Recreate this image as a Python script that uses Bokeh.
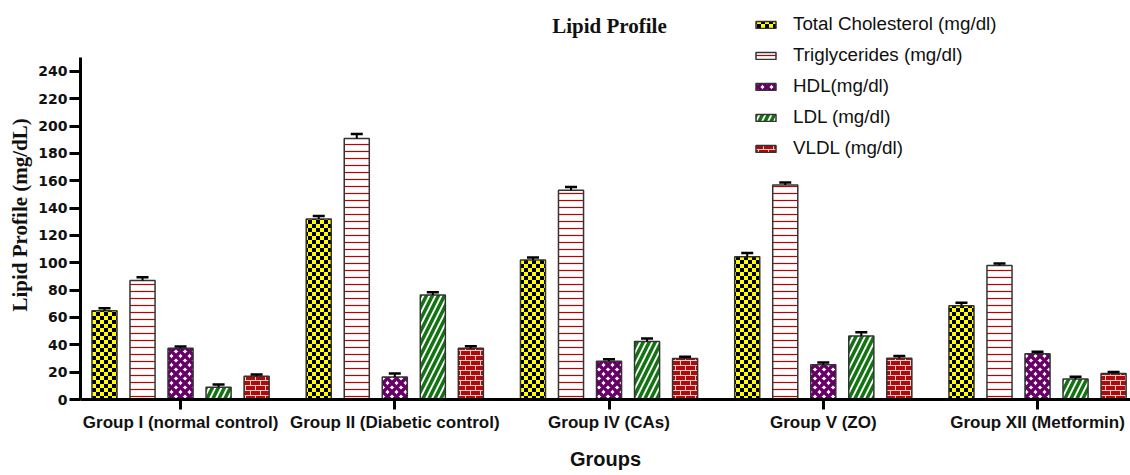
import zlib, struct, base64
from bokeh.plotting import figure
from bokeh.models import (ColumnDataSource, Range1d, FixedTicker, Whisker, TeeHead,
                          Label, Title, ImageURLTexture)
from bokeh.transform import dodge
from bokeh.core.properties import value
from bokeh.embed import file_html
from bokeh.resources import INLINE

# ---------------- data ----------------
groups = ["Group I (normal control)", "Group II (Diabetic control)", "Group IV (CAs)",
          "Group V (ZO)", "Group XII (Metformin)"]
series = ["Total Cholesterol (mg/dl)", "Triglycerides (mg/dl)", "HDL(mg/dl)",
          "LDL (mg/dl)", "VLDL (mg/dl)"]
tc = [65, 132, 102, 104.5, 68.5]
tc_err = [1.7, 2.2, 1.9, 2.6, 2.2]
tg = [87, 191, 153, 157, 98]
tg_err = [2.4, 3.2, 2.4, 1.7, 1.5]
hdl = [37.5, 16.5, 28, 25.5, 33.5]
hdl_err = [1.2, 2.5, 1.5, 1.5, 1.5]
ldl = [9, 76.5, 42.5, 46.5, 15]
ldl_err = [2.0, 1.9, 2.2, 2.7, 1.7]
vldl = [17, 37.5, 30, 30.2, 19]
vldl_err = [1.3, 1.5, 1.2, 1.7, 1.2]
y_ticks = [0, 20, 40, 60, 80, 100, 120, 140, 160, 180, 200, 220, 240]


# ---------------- textures ----------------
def png_uri(pixels):
    h = len(pixels)
    w = len(pixels[0])
    raw = b"".join(b"\x00" + bytes(c for px in row for c in px) for row in pixels)

    def chunk(t, d):
        c = struct.pack(">I", len(d)) + t + d
        return c + struct.pack(">I", zlib.crc32(t + d) & 0xffffffff)

    png = (b"\x89PNG\r\n\x1a\n"
           + chunk(b"IHDR", struct.pack(">IIBBBBB", w, h, 8, 2, 0, 0, 0))
           + chunk(b"IDAT", zlib.compress(raw))
           + chunk(b"IEND", b""))
    return "data:image/png;base64," + base64.b64encode(png).decode()


YEL, BLK = (255, 255, 0), (0, 0, 0)
checker = [[BLK if ((x // 4) + (y // 4)) % 2 == 0 else YEL for x in range(8)] for y in range(8)]
BRK, MOR = (176, 10, 10), (245, 205, 205)
brick = []
for yy in range(10):
    row = []
    for xx in range(10):
        if yy in (0, 5) or (yy < 5 and xx == 0) or (yy > 5 and xx == 5):
            row.append(MOR)
        else:
            row.append(BRK)
    brick.append(row)

styles = [
    dict(fill_color="#FFFF00", hatch_pattern=value("checker"),
         hatch_extra={"checker": ImageURLTexture(url=png_uri(checker))}),
    dict(fill_color="white", hatch_pattern=value("horizontal_line"), hatch_color="#C00000",
         hatch_weight=1.2, hatch_scale=7),
    dict(fill_color="white", hatch_pattern=value("diagonal_cross"), hatch_color="#660066",
         hatch_weight=3.5, hatch_scale=9),
    dict(fill_color="white", hatch_pattern=value("right_diagonal_line"), hatch_color="#137313",
         hatch_weight=3.5, hatch_scale=12),
    dict(fill_color="#B00A0A", hatch_pattern=value("brick"),
         hatch_extra={"brick": ImageURLTexture(url=png_uri(brick))}),
]

# ---------------- figure ----------------
p = figure(width=1130, height=475, output_backend="svg", toolbar_location=None,
           x_range=Range1d(-0.467, 4.434), y_range=Range1d(0, 291.9),
           min_border_left=80, min_border_right=0, min_border_top=0, min_border_bottom=76)
p.outline_line_color = None
p.grid.visible = False

x_idx = list(range(len(groups)))
vals = [tc, tg, hdl, ldl, vldl]
errs = [tc_err, tg_err, hdl_err, ldl_err, vldl_err]
step = 0.1775
bw = 0.117

for i, (name, v, e, st) in enumerate(zip(series, vals, errs, styles)):
    src = ColumnDataSource(dict(x=x_idx, top=v, upper=[a + b for a, b in zip(v, e)]))
    off = (i - 2) * step
    p.vbar(x=dodge("x", off, range=p.x_range), top="top", width=bw, bottom=0, source=src,
           line_color="#333333", line_width=1.5, legend_label=name, **st)
    w = Whisker(base=dodge("x", off, range=p.x_range), upper="upper", lower="top", source=src,
                dimension="height", line_color="black", line_width=2,
                upper_head=TeeHead(size=12, line_width=2.5, line_color="black"),
                lower_head=None, level="annotation")
    p.add_layout(w)

# axes
xa = p.xaxis[0]
xa.ticker = FixedTicker(ticks=x_idx)
xa.major_label_overrides = {i: g for i, g in enumerate(groups)}
xa.axis_line_width = 3
xa.major_tick_line_width = 3
xa.major_tick_out = 10
xa.major_tick_in = 0
xa.minor_tick_line_color = None
xa.major_label_text_font = "Liberation Sans"
xa.major_label_text_font_style = "bold"
xa.major_label_text_font_size = "17px"
xa.major_label_text_color = "#111111"
xa.major_label_standoff = 3
xa.axis_label = "Groups"
xa.axis_label_text_font = "Liberation Sans"
xa.axis_label_text_font_style = "bold"
xa.axis_label_text_font_size = "20px"
xa.axis_label_text_color = "#111111"
xa.axis_label_standoff = 13

ya = p.yaxis[0]
ya.ticker = FixedTicker(ticks=y_ticks)
ya.bounds = (0, 250)
ya.axis_line_width = 3
ya.major_tick_line_width = 3
ya.major_tick_out = 11
ya.major_tick_in = 0
ya.minor_tick_line_color = None
ya.major_label_text_font = "DejaVu Sans"
ya.major_label_text_font_style = "bold"
ya.major_label_text_font_size = "14px"
ya.major_label_text_color = "#111111"
ya.major_label_standoff = 2

# y axis title, as a side title so it can be placed along the axis
p.add_layout(Title(text="Lipid Profile (mg/dL)", align="left", offset=88,
                   text_font="Liberation Serif", text_font_style="bold",
                   text_font_size="21px", text_color="#111111", standoff=8), "left")

# chart title
p.add_layout(Label(x=529, y=374, x_units="screen", y_units="screen", text="Lipid Profile",
                   text_align="center", text_baseline="alphabetic",
                   text_font="Liberation Serif", text_font_style="bold",
                   text_font_size="21px", text_color="#111111"))

# legend
lg = p.legend[0]
lg.location = (673, 240)
lg.border_line_color = None
lg.background_fill_alpha = 0
lg.padding = 0
lg.margin = 0
lg.spacing = 9
lg.glyph_width = 25
lg.glyph_height = 9
lg.label_standoff = 15
lg.label_height = 20
lg.label_text_font = "Liberation Sans"
lg.label_text_font_size = "18.8px"
lg.label_text_color = "#111111"

open("out.html", "w").write(file_html(p, INLINE))
